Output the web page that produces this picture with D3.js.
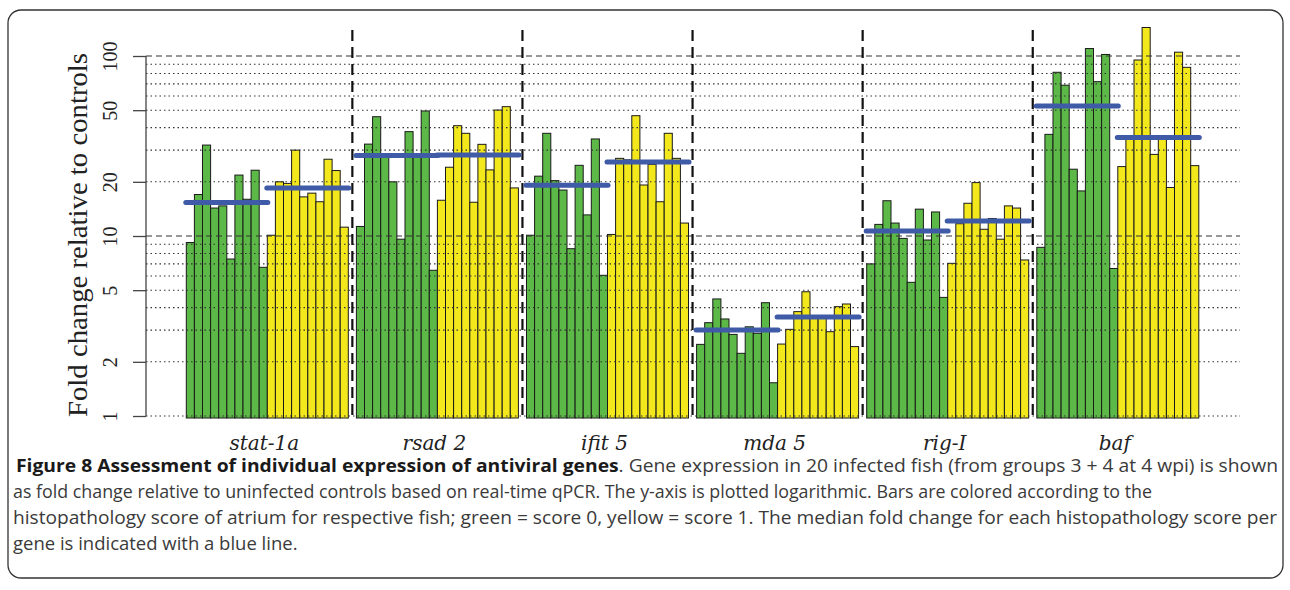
<!DOCTYPE html>
<html>
<head>
<meta charset="utf-8">
<script src="https://cdn.jsdelivr.net/npm/d3@7"></script>
<style>
html,body{margin:0;padding:0;background:#fff;}
svg{display:block;}
</style>
</head>
<body>
<svg id="chart" width="1290" height="590"></svg>
<script>
// ---------- data ----------
const genes = ["stat-1a", "rsad 2", "ifit 5", "mda 5", "rig-I", "baf"];
// score 0 (green) fish, 10 per gene
const stat1aScore0 = [9.2, 17.0, 32.0, 14.3, 14.7, 7.45, 21.8, 16.0, 23.2, 6.7];
const rsad2Score0  = [11.3, 32.4, 46.0, 27.5, 20.0, 9.6, 38.0, 28.5, 49.5, 6.45];
const ifit5Score0  = [10.1, 21.5, 37.2, 20.3, 18.0, 8.5, 24.7, 13.1, 34.6, 6.05];
const mda5Score0   = [2.5, 3.3, 4.47, 3.46, 2.84, 2.23, 3.13, 2.88, 4.26, 1.53];
const rigIScore0   = [7.0, 11.6, 15.7, 11.8, 9.7, 5.53, 14.1, 9.5, 13.6, 4.56];
const bafScore0    = [8.65, 36.7, 81.2, 68.8, 23.5, 17.8, 110, 72, 102, 6.6];
// score 1 (yellow) fish, 10 per gene
const stat1aScore1 = [10.1, 20.0, 19.6, 30.0, 16.5, 17.3, 15.5, 26.7, 23.1, 11.2];
const rsad2Score1  = [15.8, 24.1, 41.0, 37.2, 15.4, 32.3, 23.3, 50.1, 52.3, 18.5];
const ifit5Score1  = [10.2, 27.0, 26.5, 46.6, 19.2, 25.0, 15.5, 37.2, 27.0, 11.8];
const mda5Score1   = [2.51, 3.03, 3.8, 4.9, 3.5, 3.6, 2.94, 4.05, 4.19, 2.43];
const rigIScore1   = [7.05, 11.7, 15.2, 19.8, 10.9, 12.5, 9.6, 14.7, 14.3, 7.36];
const bafScore1    = [24.3, 35.0, 95, 144, 28.4, 35.6, 18.6, 105, 86.5, 24.6];

const yTickValues = [1, 2, 5, 10, 20, 50, 100];
const dashedGrid = [10, 100];
const dottedGrid = [1, 2, 3, 4, 5, 6, 7, 8, 9, 20, 30, 40, 50, 60, 70, 80, 90];

const score0 = [stat1aScore0, rsad2Score0, ifit5Score0, mda5Score0, rigIScore0, bafScore0];
const score1 = [stat1aScore1, rsad2Score1, ifit5Score1, mda5Score1, rigIScore1, bafScore1];

// ---------- layout ----------
const svg = d3.select("#chart");
const slotsPerGene = 21; // 20 bars + gap
const y = d3.scaleLog().domain([1, 100]).range([416, 56]);
const x = d3.scaleLinear().domain([0, genes.length * slotsPerGene]).range([186.3, 186.3 + genes.length * slotsPerGene * 8.1]);
const bw = x(1) - x(0);
const axisX = 146, gridRight = 1240;
const green = "#5cb947", yellow = "#f3e81c", blue = "#3f5aa6";
const serif = "'Liberation Serif', 'DejaVu Serif', serif";

// frame
svg.append("rect").attr("x", 8).attr("y", 10).attr("width", 1275).attr("height", 568)
  .attr("rx", 13).attr("fill", "none").attr("stroke", "#333").attr("stroke-width", 1.3);

// bars
const bars = [];
genes.forEach((g, gi) => {
  score0[gi].forEach((v, j) => bars.push({slot: gi * slotsPerGene + j, v, c: green}));
  score1[gi].forEach((v, j) => bars.push({slot: gi * slotsPerGene + 10 + j, v, c: yellow}));
});
svg.append("g").selectAll("rect").data(bars).join("rect")
  .attr("x", d => x(d.slot)).attr("width", bw)
  .attr("y", d => y(d.v)).attr("height", d => y(1) - y(d.v) + 2)
  .attr("fill", d => d.c).attr("stroke", "#1a1a1a").attr("stroke-width", 1);

// grid lines (drawn over the bars, as in the reference)
svg.append("g").selectAll("line").data(dottedGrid).join("line")
  .attr("x1", axisX).attr("x2", gridRight)
  .attr("y1", d => y(d)).attr("y2", d => y(d))
  .attr("stroke", "#333").attr("stroke-width", 1.1).attr("stroke-dasharray", "1.5,3");
svg.append("g").selectAll("line").data(dashedGrid).join("line")
  .attr("x1", axisX).attr("x2", gridRight)
  .attr("y1", d => y(d)).attr("y2", d => y(d))
  .attr("stroke", "#333").attr("stroke-width", 1.2).attr("stroke-dasharray", "6,4");

// vertical separators
svg.append("g").selectAll("line").data(d3.range(1, genes.length)).join("line")
  .attr("x1", d => x(d * slotsPerGene - 0.5)).attr("x2", d => x(d * slotsPerGene - 0.5))
  .attr("y1", 30).attr("y2", 420)
  .attr("stroke", "#111").attr("stroke-width", 2.2).attr("stroke-dasharray", "11,6");

// median lines
const medians = [];
genes.forEach((g, gi) => {
  medians.push({s: gi * slotsPerGene, m: d3.median(score0[gi])});
  medians.push({s: gi * slotsPerGene + 10, m: d3.median(score1[gi])});
});
svg.append("g").selectAll("line").data(medians).join("line")
  .attr("x1", d => x(d.s) - 0.5).attr("x2", d => x(d.s + 10) + 0.5)
  .attr("y1", d => y(d.m)).attr("y2", d => y(d.m))
  .attr("stroke", blue).attr("stroke-width", 5).attr("stroke-linecap", "round");

// y axis
const axis = d3.axisLeft(y).tickValues(yTickValues).tickFormat(d3.format("d")).tickSize(13).tickPadding(0);
const ag = svg.append("g").attr("transform", `translate(${axisX},0)`).call(axis)
  .attr("font-family", serif).attr("font-size", 20);
ag.select(".domain").attr("d", `M0,${y(1)}V${y(100)}`).attr("stroke", "#444").attr("stroke-width", 1.3);
ag.selectAll(".tick line").attr("stroke", "#444").attr("stroke-width", 1.3);
ag.selectAll(".tick text")
  .attr("x", null).attr("dy", null)
  .attr("transform", "translate(-29,0) rotate(-90)")
  .attr("text-anchor", "middle")
  .style("font-family", serif)
  .style("font-size", "20px")
  .attr("fill", "#222");

// y title
svg.append("text")
  .attr("transform", `translate(87,235) rotate(-90)`)
  .attr("text-anchor", "middle")
  .style("font-family", serif)
  .style("font-size", "27px")
  .attr("textLength", 364).attr("lengthAdjust", "spacingAndGlyphs")
  .attr("fill", "#222")
  .text("Fold change relative to controls");

// gene labels
svg.append("g").selectAll("text").data(genes).join("text")
  .attr("x", (d, i) => x(i * slotsPerGene + 10) - 3)
  .attr("y", 450)
  .attr("text-anchor", "middle")
  .style("font-family", "'DejaVu Serif', 'Liberation Serif', serif")
  .style("font-style", "italic")
  .style("font-size", "20px")
  .attr("fill", "#222")
  .text(d => d);

// caption
const capFont = "'Open Sans', 'Noto Sans', sans-serif";
const captionLines = [
  {x: 16, y: 472, w: 1262, parts: [["Figure 8 Assessment of individual expression of antiviral genes", "bold"], [". Gene expression in 20 infected fish (from groups 3 + 4 at 4 wpi) is shown", "normal"]]},
  {x: 13, y: 498, w: 1139, parts: [["as fold change relative to uninfected controls based on real-time qPCR. The y-axis is plotted logarithmic. Bars are colored according to the", "normal"]]},
  {x: 13, y: 524, w: 1264, parts: [["histopathology score of atrium for respective fish; green = score 0, yellow = score 1. The median fold change for each histopathology score per", "normal"]]},
  {x: 13, y: 550, w: null, parts: [["gene is indicated with a blue line.", "normal"]]}
];
const capNodes = captionLines.map(l => {
  const t = svg.append("text").attr("x", l.x).attr("y", l.y)
    .style("font-family", capFont).style("font-size", "17.5px").attr("fill", "#333");
  l.parts.forEach(p => t.append("tspan").style("font-weight", p[1]).attr("fill", p[1] === "bold" ? "#1a1a1a" : "#3a3a3a").text(p[0]));
  return t;
});
// horizontal squeeze factor shared by all caption lines (taken from the full-width lines)
const natural = capNodes.map(t => t.node().getComputedTextLength());
const squeeze = d3.mean([1, 2], i => captionLines[i].w / natural[i]);
capNodes.forEach((t, i) => {
  const w = captionLines[i].w || natural[i] * squeeze;
  t.attr("textLength", w).attr("lengthAdjust", "spacingAndGlyphs");
});
</script>
</body>
</html>
